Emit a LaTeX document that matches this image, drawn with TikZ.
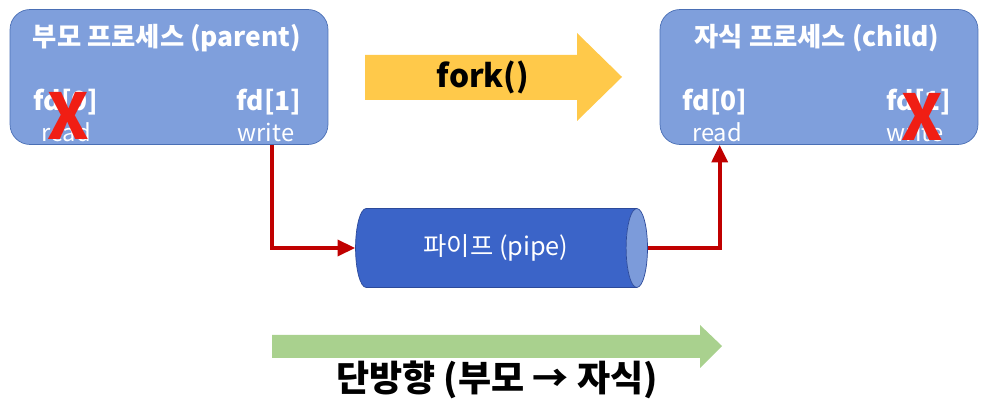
\documentclass[tikz,border=0pt]{standalone}
\usepackage{fontspec}
\setmainfont{Noto Sans CJK KR}
\usetikzlibrary{shapes.geometric, arrows.meta, positioning, calc}

\definecolor{procfill}{HTML}{7F9FDC}
\definecolor{procedge}{HTML}{4A6FB5}
\definecolor{pipefill}{HTML}{3B64C8}
\definecolor{pipeend}{HTML}{7C9BDA}
\definecolor{pipeedge}{HTML}{2C4A9A}
\definecolor{linered}{HTML}{C00000}
\definecolor{xred}{HTML}{F01E14}
\definecolor{forkyellow}{HTML}{FFC94A}
\definecolor{flowgreen}{HTML}{A9D18E}

\begin{document}
\begin{tikzpicture}[
    x=0.02cm, y=-0.02cm,
    proc/.style={rectangle, draw=procedge, fill=procfill, rounded corners=0.4cm, minimum width=6.36cm, minimum height=2.7cm},
    title/.style={text=white, font=\bfseries\fontsize{15}{18}\selectfont},
    fdlbl/.style={text=white, font=\bfseries\fontsize{15}{18}\selectfont, inner sep=0pt},
    rwlbl/.style={text=white, font=\fontsize{13.5}{16}\selectfont, inner sep=0pt},
    cross/.style={text=xred, font=\bfseries\fontsize{36}{40}\selectfont, inner sep=0pt},
    line/.style={draw=linered, line width=2.2pt, -{Triangle[length=10pt,width=9pt]}}
]
\useasboundingbox (0,0) rectangle (982,404);

% processes
\node [proc] (parent) at (169,77) {};
\node [proc] (child) at (819,77) {};

\node [title] (ptitle) at (167,38) {부모 프로세스 (parent)};
\node [fdlbl] (p0) at (66,102) {fd[0]};
\node [rwlbl] (pr) at (66,132) {read};
\node [fdlbl] (p1) at (269,102) {fd[1]};
\node [rwlbl] (pw) at (266,132) {write};
\node [cross] (px) at (68,116) {X};

\node [title] (ctitle) at (817,38) {자식 프로세스 (child)};
\node [fdlbl] (c0) at (715,102) {fd[0]};
\node [rwlbl] (cr) at (717,132) {read};
\node [fdlbl] (c1) at (919,102) {fd[1]};
\node [rwlbl] (cw) at (915,132) {write};
\node [cross] (cx) at (922,117) {X};

% fork arrow
\fill [forkyellow] (365,55) -- (577,55) -- (577,33) -- (622,77) -- (577,121) -- (577,100) -- (365,100) -- cycle;
\node [font=\bfseries\fontsize{18}{21}\selectfont] (fork) at (483,77) {fork()};

% pipe
\node [cylinder, draw=pipeedge, cylinder uses custom fill, cylinder body fill=pipefill, cylinder end fill=pipeend,
       aspect=0.8, minimum height=5.84cm, minimum width=1.58cm, inner sep=0pt,
       text=white, font=\fontsize{14.4}{17}\selectfont] (pipe) at (496,248) {파이프 (pipe)};

\path [line] ($(parent.south west)+(262,0)$) |- (pipe.west);
\path [line] (pipe.east) -| ($(child.south west)+(60,0)$);

% direction
\fill [flowgreen] (272,335) -- (700,335) -- (700,325) -- (722,346) -- (700,368) -- (700,358) -- (272,358) -- cycle;
\node [font=\bfseries\fontsize{20.5}{24}\selectfont] (dir) at (497,380) {단방향 (부모 → 자식)};

\end{tikzpicture}
\end{document}
